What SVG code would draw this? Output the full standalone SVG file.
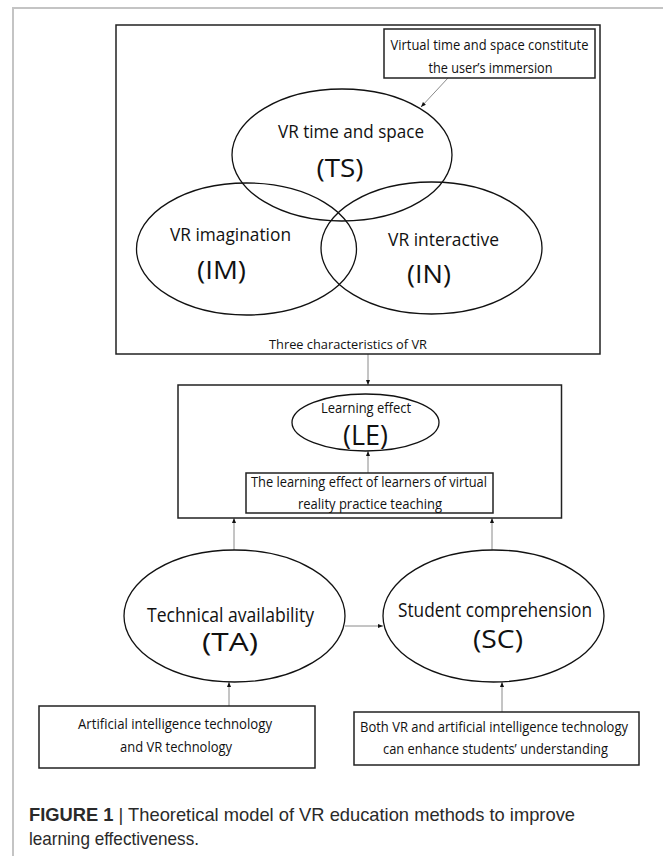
<svg xmlns="http://www.w3.org/2000/svg" width="663" height="856" viewBox="0 0 663 856">
  <defs>
    <marker id="ah" viewBox="0 0 10 10" refX="10" refY="5" markerWidth="5" markerHeight="5" orient="auto" markerUnits="userSpaceOnUse">
      <path d="M0,1 L10,5 L0,9 z" fill="#111"/>
    </marker>
    <style>
      .frame { fill: none; stroke: #c4c4c4; stroke-width: 2; }
      .box { fill: none; stroke: #222; stroke-width: 1.5; }
      .ell { fill: none; stroke: #111; stroke-width: 1.3; }
      .conn { fill: none; stroke: #8a8a8a; stroke-width: 1; marker-end: url(#ah); }
      text { font-family: "Open Sans", "Noto Sans", "Liberation Sans", sans-serif; fill: #111; text-anchor: middle; }
      .sm { font-size: 14.5px; }
      .md { font-size: 18.5px; }
      .lg { font-size: 25px; }
      .cap { font-family: "Liberation Sans", Arial, sans-serif; font-size: 18.5px; fill: #2a2a2a; text-anchor: start; }
      .capb { font-weight: bold; }
    </style>
  </defs>

  <!-- figure frame -->
  <path class="frame" d="M13,870 L13,8 L680,8"/>

  <!-- connectors -->
  <g id="connectors">
    <line class="conn" x1="448" y1="78" x2="421" y2="107"/>
    <line class="conn" x1="368" y1="354" x2="368" y2="385"/>
    <line class="conn" x1="368" y1="473" x2="368" y2="451"/>
    <line class="conn" x1="234" y1="550" x2="234" y2="518"/>
    <line class="conn" x1="492" y1="550" x2="492" y2="518"/>
    <line class="conn" x1="345" y1="626" x2="383" y2="626"/>
    <line class="conn" x1="229" y1="706" x2="229" y2="682"/>
    <line class="conn" x1="502" y1="712" x2="502" y2="682"/>
  </g>

  <!-- VR characteristics container -->
  <g id="vr-characteristics">
    <rect class="box" x="116" y="25" width="484" height="329"/>
    <text x="348" y="349" style="font-size:13.5px" textLength="158" lengthAdjust="spacingAndGlyphs">Three characteristics of VR</text>
  </g>

  <g id="immersion-note">
    <rect class="box" x="384" y="29" width="211" height="49"/>
    <text class="sm" x="489.5" y="50" textLength="198" lengthAdjust="spacingAndGlyphs">Virtual time and space constitute</text>
    <text class="sm" x="490.5" y="73" textLength="124" lengthAdjust="spacingAndGlyphs">the user’s immersion</text>
  </g>

  <g id="TS">
    <ellipse class="ell" cx="342" cy="155" rx="110" ry="66"/>
    <text class="md" x="351" y="138" textLength="146" lengthAdjust="spacingAndGlyphs">VR time and space</text>
    <text class="lg" x="340" y="177" textLength="47" lengthAdjust="spacingAndGlyphs">(TS)</text>
  </g>

  <g id="IM">
    <ellipse class="ell" cx="246.5" cy="249" rx="110" ry="66"/>
    <text class="md" x="230.5" y="241" textLength="121" lengthAdjust="spacingAndGlyphs">VR imagination</text>
    <text class="lg" x="221.5" y="279" textLength="49" lengthAdjust="spacingAndGlyphs">(IM)</text>
  </g>

  <g id="IN">
    <ellipse class="ell" cx="431.5" cy="248" rx="110.5" ry="66"/>
    <text class="md" x="443.5" y="246" textLength="111" lengthAdjust="spacingAndGlyphs">VR interactive</text>
    <text class="lg" x="429" y="283" textLength="44" lengthAdjust="spacingAndGlyphs">(IN)</text>
  </g>

  <!-- learning effect container -->
  <g id="learning-effect-box">
    <rect class="box" x="178" y="385" width="383.5" height="133"/>
  </g>

  <g id="LE">
    <ellipse class="ell" cx="365.5" cy="422.5" rx="73.5" ry="28.5"/>
    <text class="sm" x="366" y="413" textLength="90" lengthAdjust="spacingAndGlyphs">Learning effect</text>
    <text x="365.5" y="445" style="font-size:27px" textLength="45" lengthAdjust="spacingAndGlyphs">(LE)</text>
  </g>

  <g id="learning-effect-note">
    <rect class="box" x="246" y="473" width="247" height="40"/>
    <text class="sm" x="369" y="487" textLength="236" lengthAdjust="spacingAndGlyphs">The learning effect of learners of virtual</text>
    <text class="sm" x="370" y="508.5" textLength="144" lengthAdjust="spacingAndGlyphs">reality practice teaching</text>
  </g>

  <g id="TA">
    <ellipse class="ell" cx="234.5" cy="616" rx="110.5" ry="66"/>
    <text x="230.5" y="622" style="font-size:20px" textLength="167" lengthAdjust="spacingAndGlyphs">Technical availability</text>
    <text class="lg" x="230" y="651" textLength="56" lengthAdjust="spacingAndGlyphs">(TA)</text>
  </g>

  <g id="SC">
    <ellipse class="ell" cx="493.5" cy="616" rx="110.5" ry="66"/>
    <text x="495" y="617" style="font-size:19.5px" textLength="194" lengthAdjust="spacingAndGlyphs">Student comprehension</text>
    <text class="lg" x="498" y="648" textLength="50" lengthAdjust="spacingAndGlyphs">(SC)</text>
  </g>

  <g id="technology-note">
    <rect class="box" x="39" y="706" width="276" height="62"/>
    <text class="sm" x="175" y="729" textLength="194" lengthAdjust="spacingAndGlyphs">Artificial intelligence technology</text>
    <text class="sm" x="176" y="752" textLength="112" lengthAdjust="spacingAndGlyphs">and VR technology</text>
  </g>

  <g id="comprehension-note">
    <rect class="box" x="354" y="712" width="285" height="53"/>
    <text class="sm" x="494" y="732" textLength="268" lengthAdjust="spacingAndGlyphs">Both VR and artificial intelligence technology</text>
    <text class="sm" x="495.5" y="754" textLength="225" lengthAdjust="spacingAndGlyphs">can enhance students’ understanding</text>
  </g>

  <!-- caption -->
  <g id="caption">
    <text class="cap" x="29" y="821" textLength="546" lengthAdjust="spacingAndGlyphs"><tspan class="capb">FIGURE 1</tspan> | Theoretical model of VR education methods to improve</text>
    <text class="cap" x="29" y="845" textLength="170" lengthAdjust="spacingAndGlyphs">learning effectiveness.</text>
  </g>
</svg>
